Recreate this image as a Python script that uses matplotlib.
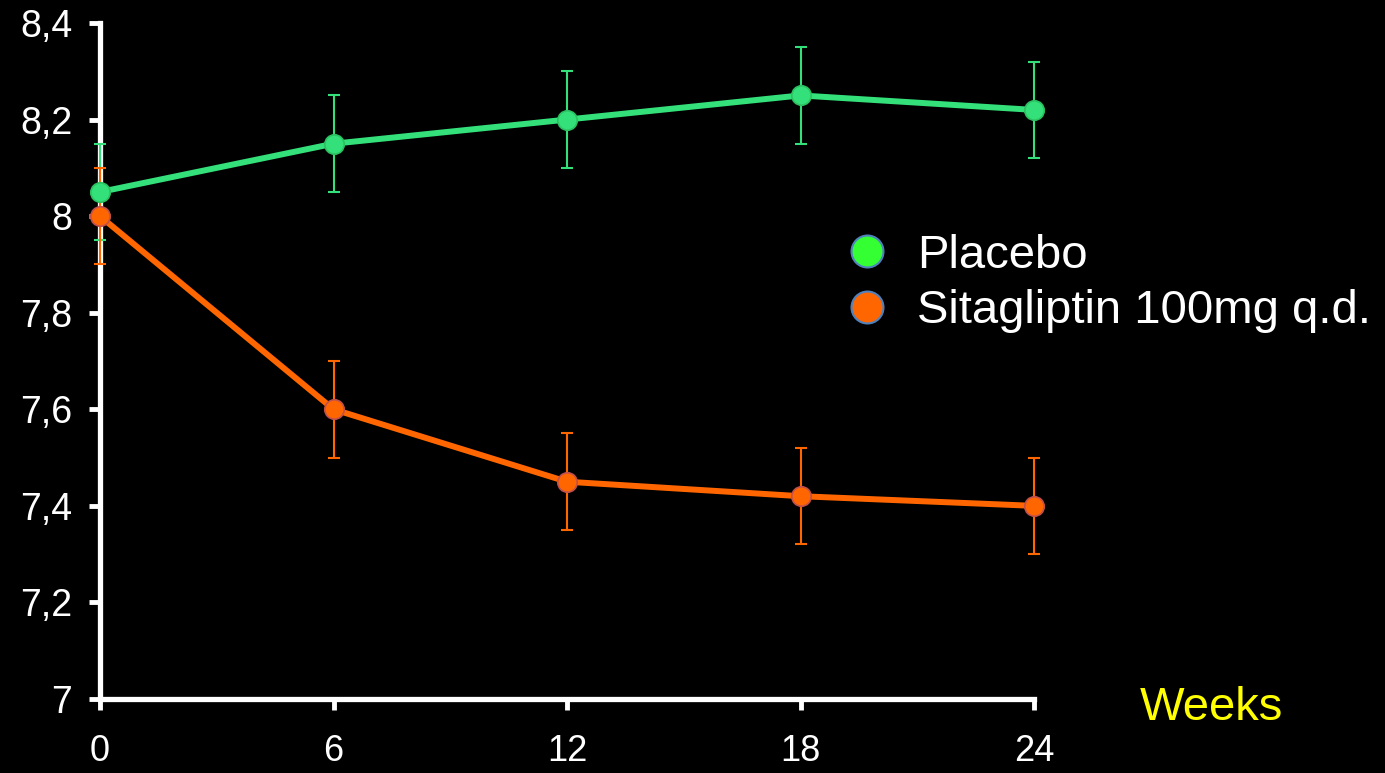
import matplotlib
matplotlib.use('Agg')
import matplotlib.pyplot as plt
from matplotlib.lines import Line2D

plt.rcParams['font.family'] = ['Liberation Sans', 'DejaVu Sans']

weeks = [0, 6, 12, 18, 24]
placebo = [8.05, 8.15, 8.2, 8.25, 8.22]
placebo_err = [0.1, 0.1, 0.1, 0.1, 0.1]
sita = [8.0, 7.6, 7.45, 7.42, 7.4]
sita_err = [0.1, 0.1, 0.1, 0.1, 0.1]
y_ticks = [7, 7.2, 7.4, 7.6, 7.8, 8, 8.2, 8.4]
y_labels = ['7', '7,2', '7,4', '7,6', '7,8', '8', '8,2', '8,4']
legend_labels = ['Placebo', 'Sitagliptin 100mg q.d.']

fig = plt.figure(figsize=(13.85, 7.73), dpi=100)
fig.patch.set_facecolor('black')
ax = fig.add_axes([100 / 1385, 1 - 699 / 773, 934 / 1385, 676 / 773])
ax.set_facecolor('black')

# error bars
ax.errorbar(weeks, placebo, yerr=placebo_err, fmt='none', ecolor='#33e07a',
            elinewidth=1.5, capsize=4.5, capthick=1.5, clip_on=False, zorder=3)
ax.errorbar(weeks, sita, yerr=sita_err, fmt='none', ecolor='#ff6600',
            elinewidth=1.5, capsize=4.5, capthick=1.5, clip_on=False, zorder=3)

# lines
ax.plot(weeks, placebo, color='#33e07a', lw=4.3, marker='o', ms=14,
        mfc='#33e07a', mec='#2cc060', mew=1.2, clip_on=False, zorder=4)
ax.plot(weeks, sita, color='#ff6600', lw=4.3, marker='o', ms=14,
        mfc='#ff6600', mec='#c0504d', mew=1.2, clip_on=False, zorder=5)

ax.set_xlim(0, 24)
ax.set_ylim(7, 8.4)
ax.set_xticks(weeks)
ax.set_xticklabels([str(w) for w in weeks])
ax.set_yticks(y_ticks)
ax.set_yticklabels(y_labels)

for s in ['top', 'right']:
    ax.spines[s].set_visible(False)
for s in ['left', 'bottom']:
    ax.spines[s].set_color('white')
    ax.spines[s].set_linewidth(3.8)
ax.tick_params(colors='white', labelsize=27, length=8, width=3.5, direction='out')
ax.tick_params(axis='x', pad=17, labelsize=26)
ax.tick_params(axis='y', pad=12)

handles = [
    Line2D([], [], ls='none', marker='o', ms=23, mfc='#33ff33', mec='#4f81bd', mew=1.5),
    Line2D([], [], ls='none', marker='o', ms=23, mfc='#ff6600', mec='#4f81bd', mew=1.5),
]
leg = fig.legend(handles, legend_labels, loc='upper left',
                 bbox_to_anchor=(820 / 1385, 1 - 210 / 773), frameon=False,
                 fontsize=34, labelcolor='white', handlelength=1.0,
                 handletextpad=0.56, labelspacing=0.25, borderpad=0)

fig.text(1211 / 1385, 1 - 708 / 773, 'Weeks', color='#ffff00', fontsize=34,
         ha='center', va='center')

fig.savefig('out.png', dpi=100, facecolor='black')
